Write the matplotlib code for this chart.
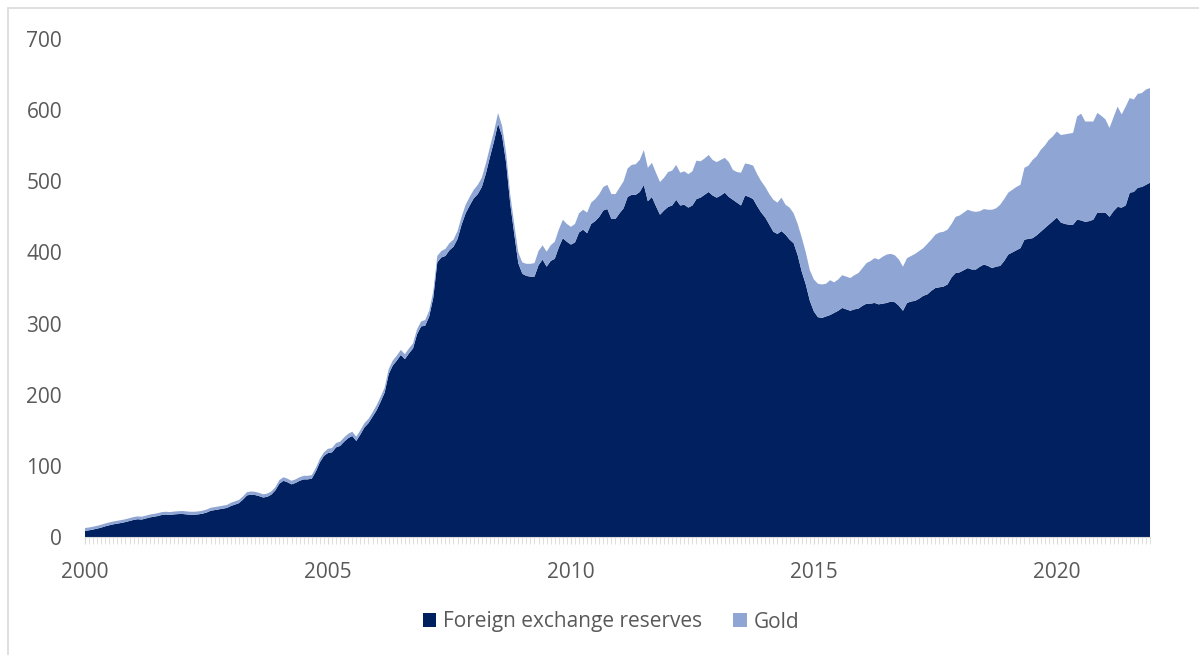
import matplotlib
import numpy as np

matplotlib.use("Agg")
import matplotlib.pyplot as plt
from matplotlib.patches import Rectangle

# monthly values, Jan 2000 - Dec 2021 (bn USD)
fx = [
    8.6, 9.4, 10.5, 11.8, 13.2, 15.0, 16.5, 17.8, 18.8, 19.8, 21.0, 22.5,
    24, 25, 24.5, 26, 27.5, 28.5, 29.5, 31, 31.5, 31, 31.8, 32.2,
    32.4, 31.8, 31.3, 31.3, 31.8, 32.8, 34.3, 36.8, 37.8, 38.8, 39.8, 40.8,
    43.5, 45.5, 47.5, 52.5, 58.5, 59.5, 59, 57.5, 55.5, 56.5, 59.5, 65.5,
    75, 79, 77, 74, 76, 79, 81, 81, 82, 92, 105, 114,
    118, 119, 126, 128, 134, 139, 142, 135, 144, 154, 160, 169,
    178, 190, 203, 229, 241, 248, 256, 250, 258, 265, 285, 296,
    297, 310, 336, 386, 393, 395, 403, 408, 419, 439, 455, 466,
    476, 482, 492, 511, 534, 556, 581, 564, 526, 469, 426, 385,
    370, 367, 366, 366, 382, 390, 380, 388, 391, 407, 420, 415,
    411, 414, 428, 432, 427, 440, 444, 450, 459, 461, 447, 447,
    455, 462, 478, 481, 481, 485, 495, 472, 478, 465, 453, 459,
    464, 466, 474, 466, 467, 463, 466, 475, 477, 481, 485, 480,
    477, 480, 484, 478, 474, 470, 466, 480, 478, 475, 465, 456,
    449, 439, 429, 426, 430, 425, 418, 413, 396, 373, 355, 332,
    317, 309, 308, 310, 312, 315, 318, 322, 320, 318, 320, 321,
    325, 328, 328, 329, 327, 328, 329, 331, 330, 325, 318, 329,
    331, 332, 335, 339, 341, 346, 350, 351, 352, 355, 365, 371,
    372, 375, 378, 376, 376, 380, 383, 381, 378, 380, 381, 388,
    397, 400, 403, 406, 418, 419, 420, 424, 429, 434, 439, 444,
    449, 442, 440, 439, 439, 446, 445, 443, 444, 446, 456, 456,
    456, 450, 458, 464, 463, 466, 484, 485, 491, 492, 495, 498,
]
gold = [
    4.0, 4.0, 4.0, 4.0, 4.0, 4.0, 4.0, 4.0, 4.0, 4.0, 4.0, 4.0,
    4.0, 4.0, 4.0, 4.0, 4.0, 4.0, 4.0, 4.0, 4.0, 4.0, 4.0, 4.0,
    4.2, 4.2, 4.2, 4.2, 4.2, 4.2, 4.2, 4.2, 4.2, 4.2, 4.2, 4.2,
    4.5, 4.5, 4.5, 4.5, 4.5, 4.5, 4.5, 4.5, 4.5, 4.5, 4.5, 4.5,
    5, 5, 5, 5, 5, 5, 5, 5, 5, 5, 5, 5,
    6, 6, 6, 6, 6, 6, 6, 6, 6, 6, 6, 6,
    7, 7, 7, 7, 7, 7, 7, 7, 7, 7, 7, 7,
    8, 8, 9, 9, 9, 10, 10, 10, 11, 11, 12, 12,
    12, 13, 13, 14, 14, 14, 15, 14, 14, 13, 14, 15,
    16, 17, 18, 19, 20, 20, 21, 22, 24, 25, 26, 25,
    25, 26, 27, 28, 29, 30, 31, 32, 33, 34, 35, 35,
    36, 38, 40, 42, 43, 45, 49, 47, 48, 47, 46, 46,
    49, 49, 49, 46, 47, 47, 48, 54, 51, 51, 52, 50,
    50, 50, 49, 49, 42, 43, 46, 45, 46, 47, 45, 44,
    43, 43, 45, 44, 47, 42, 45, 42, 44, 48, 45, 43,
    45, 47, 47, 46, 49, 43, 44, 46, 46, 46, 48, 50,
    53, 57, 60, 63, 63, 66, 68, 67, 66, 65, 62, 63,
    64, 66, 67, 67, 71, 72, 75, 77, 77, 77, 75, 79,
    80, 81, 82, 82, 81, 78, 78, 79, 82, 82, 86, 87,
    87, 88, 89, 89, 101, 103, 110, 111, 115, 116, 119, 119,
    121, 123, 126, 128, 129, 145, 150, 141, 140, 138, 140, 136,
    131, 125, 132, 141, 131, 139, 133, 130, 132, 132, 134, 133,
]
tick_years = ["2000", "2005", "2010", "2015", "2020"]
labels = ["Foreign exchange reserves", "Gold"]

DARK = "#002060"
LIGHT = "#8fa6d4"
TEXT = "#595959"

plt.rcParams["font.family"] = ["Open Sans", "DejaVu Sans"]

fig = plt.figure(figsize=(11.99, 6.55), dpi=100)
ax = fig.add_axes([85 / 1199, 118 / 655, 1065 / 1199, 498 / 655])

x = np.arange(len(fx))
ax.stackplot(x, fx, gold, colors=[DARK, LIGHT], labels=labels, linewidth=0)

ax.set_xlim(0, len(fx) - 1)
ax.set_ylim(0, 700)
ax.set_yticks(range(0, 701, 100))
ax.set_xticks(np.arange(0, len(fx), 60))
ax.set_xticklabels(tick_years)
ax.set_xticks(x, minor=True)

for s in ["top", "right", "left"]:
    ax.spines[s].set_visible(False)
ax.spines["bottom"].set_color("#d9d9d9")
ax.tick_params(axis="y", length=0, pad=16.5, labelsize=15, labelcolor=TEXT)
ax.tick_params(axis="x", which="both", length=5, color="#d9d9d9",
               labelsize=15, labelcolor=TEXT, pad=13)

handles, _ = ax.get_legend_handles_labels()
fig.legend(handles, labels, loc="center", bbox_to_anchor=(611 / 1199, 1 - 622 / 655),
           ncol=2, frameon=False, fontsize=15, labelcolor=TEXT,
           handlelength=0.63, handleheight=0.63, handletextpad=0.34, columnspacing=1.5)

# chart area border
fig.patches.append(Rectangle((8 / 1199, -0.05), 1.1, 1 - 8 / 655 + 0.05,
                             transform=fig.transFigure, fill=False,
                             edgecolor="#d9d9d9", linewidth=1.2))

fig.savefig("out.png", dpi=100)
